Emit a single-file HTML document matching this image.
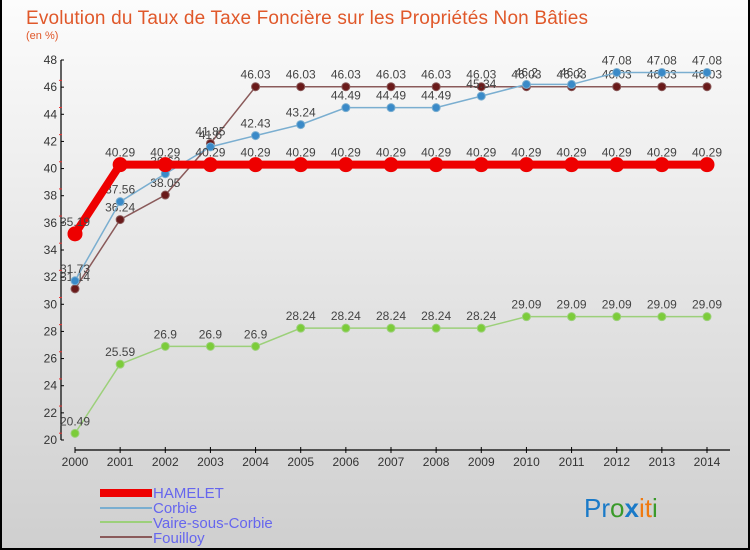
<!DOCTYPE html>
<html><head><meta charset="utf-8"><style>
body{margin:0}
#c{width:750px;height:550px;position:relative;background:linear-gradient(#fcfcfc,#cfcfcf);box-sizing:border-box;border:2px solid #000;border-top:none;overflow:hidden;font-family:"Liberation Sans",sans-serif}
</style></head><body>
<div id="c">
<svg id="s" width="750" height="550" style="position:absolute;left:-2px;top:0" font-family="Liberation Sans,sans-serif">
<text x="26" y="24" font-size="19" fill="#e0582a" textLength="562">Evolution du Taux de Taxe Foncière sur les Propriétés Non Bâties</text>
<text x="26" y="39" font-size="11" fill="#e0582a">(en %)</text>
<g id="ax"></g><g id="ser"></g>
<g font-size="15" fill="#6666ee">
<rect x="100" y="489" width="52" height="8" fill="#e00"/>
<line x1="100" y1="508" x2="152" y2="508" stroke="#7aaed0" stroke-width="2"/>
<line x1="100" y1="522" x2="152" y2="522" stroke="#9cd07a" stroke-width="2"/>
<line x1="100" y1="537" x2="152" y2="537" stroke="#8a5a5a" stroke-width="2"/>
<text x="153" y="498">HAMELET</text>
<text x="153" y="513">Corbie</text>
<text x="153" y="528">Vaire-sous-Corbie</text>
<text x="153" y="543">Fouilloy</text>
</g>
<text x="584" y="517" font-size="26"><tspan fill="#1a7ac8">Pr</tspan><tspan fill="#3a9a2a">o</tspan><tspan fill="#1a7ac8" font-weight="bold">x</tspan><tspan fill="#f07a10">it</tspan><tspan fill="#3a9a2a">i</tspan></text>
</svg></div>
<script>
const years=[2000,2001,2002,2003,2004,2005,2006,2007,2008,2009,2010,2011,2012,2013,2014];
const yTicks=[20,22,24,26,28,30,32,34,36,38,40,42,44,46,48];
const hamelet=[35.19,40.29,40.29,40.29,40.29,40.29,40.29,40.29,40.29,40.29,40.29,40.29,40.29,40.29,40.29];
const corbie=[31.73,37.56,39.62,41.6,42.43,43.24,44.49,44.49,44.49,45.34,46.2,46.2,47.08,47.08,47.08];
const vaire=[20.49,25.59,26.9,26.9,26.9,28.24,28.24,28.24,28.24,28.24,29.09,29.09,29.09,29.09,29.09];
const fouilloy=[31.14,36.24,38.05,41.85,46.03,46.03,46.03,46.03,46.03,46.03,46.03,46.03,46.03,46.03,46.03];
const NS="http://www.w3.org/2000/svg";
const X=i=>75+i*(707-75)/(years.length-1);
const Y=v=>440-(v-20)*(380/28);
function mk(t,a,p){const e=document.createElementNS(NS,t);for(const k in a)e.setAttribute(k,a[k]);p.appendChild(e);return e;}
const ax=document.getElementById('ax'),ser=document.getElementById('ser');
mk('line',{x1:61,y1:60,x2:61,y2:440,stroke:'#000','stroke-width':1.2},ax);
mk('line',{x1:75,y1:450,x2:730,y2:450,stroke:'#000','stroke-width':1.2},ax);
yTicks.forEach(v=>{const y=Y(v);
 mk('line',{x1:61,y1:y,x2:64,y2:y,stroke:'#000'},ax);
 if(v<48)mk('line',{x1:59,y1:y-6.8,x2:62,y2:y-6.8,stroke:'#e33'},ax);
 const t=mk('text',{x:57,y:y+4,'font-size':12,fill:'#333','text-anchor':'end'},ax);t.textContent=v;
 });
years.forEach((yr,i)=>{const x=X(i);
 mk('line',{x1:x,y1:447,x2:x,y2:453,stroke:'#000'},ax);
 const t=mk('text',{x:x,y:466,'font-size':12,fill:'#333','text-anchor':'middle'},ax);t.textContent=yr;
 });
function series(name,vals,color,w,r,fill){
 const g=mk('g',{},ser);
 mk('polyline',{points:vals.map((v,i)=>X(i)+','+Y(v)).join(' '),fill:'none',stroke:color,'stroke-width':w},g);
 vals.forEach((v,i)=>{const c=mk('circle',{cx:X(i),cy:Y(v),r:r,fill:fill,stroke:color,'stroke-width':1},g);
  
  const t=mk('text',{x:X(i),y:Y(v)-8,'font-size':12,fill:'#444','text-anchor':'middle'},g);t.textContent=v;
  });
}
series('vaire',vaire,'#9cd07a',1.5,4,'#7ccc3a');
series('fouilloy',fouilloy,'#8a5a5a',1.5,4,'#6a1a1a');
series('corbie',corbie,'#7aaed0',1.5,4,'#3a8ac8');
series('hamelet',hamelet,'#e00',8,7,'#e00');
</script></body></html>
